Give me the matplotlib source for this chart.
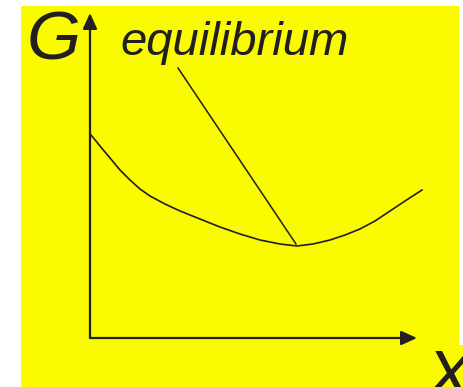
import matplotlib.pyplot as plt
from matplotlib.patches import Rectangle

INK = '#231f20'
YELLOW = '#fafa00'

# Gibbs energy curve (pixel-like units, y down)
curve_x = [91, 100, 110, 120, 130, 140, 150, 165, 180, 200, 220, 240,
           260, 280, 297, 313, 330, 345, 360, 375, 390, 405, 422]
curve_y = [135, 146, 158, 170, 180, 189, 196, 204, 211, 219, 227, 234,
           240, 244, 246, 244, 240, 235, 229, 221, 211, 201, 190]

# pointer line from the label to the minimum
pointer_x = [178, 296]
pointer_y = [68, 244]

origin = (90, 338)
y_tip = (90, 13)
x_tip = (417, 338)

label_text = 'equilibrium'
y_label = 'G'
x_label = 'X'

fig = plt.figure(figsize=(4.64, 3.87), dpi=100)
fig.patch.set_facecolor('white')
ax = fig.add_axes([0, 0, 1, 1])
ax.set_xlim(0, 464)
ax.set_ylim(387, 0)
ax.axis('off')

# yellow panel
ax.add_patch(Rectangle((21, 6), 438, 390, facecolor=YELLOW, edgecolor='none', zorder=0))

ax.plot(curve_x, curve_y, color=INK, lw=1.2, solid_joinstyle='round', zorder=2)
ax.plot(pointer_x, pointer_y, color=INK, lw=1.1, zorder=2)

arrow = dict(arrowstyle='-|>,head_length=0.95,head_width=0.43', mutation_scale=10,
             color=INK, lw=1.6, shrinkA=0, shrinkB=0)
ax.annotate('', xy=y_tip, xytext=origin, arrowprops=arrow, zorder=3)
ax.annotate('', xy=x_tip, xytext=origin, arrowprops=arrow, zorder=3)

ax.text(120, 55, label_text, fontsize=34, style='italic', family='Liberation Sans',
        color=INK, va='baseline', ha='left')
ax.text(27, 60, y_label, fontsize=50, style='italic', family='Liberation Sans',
        color=INK, va='baseline', ha='left')
# the X sits partly below the bottom edge, as in the original slide
ax.text(425, 398, x_label, fontsize=50, style='italic', family='Liberation Sans',
        color=INK, va='baseline', ha='left',
        bbox=dict(facecolor=YELLOW, edgecolor='none', pad=2), zorder=1)

fig.savefig('out.png', dpi=100, facecolor='white')
